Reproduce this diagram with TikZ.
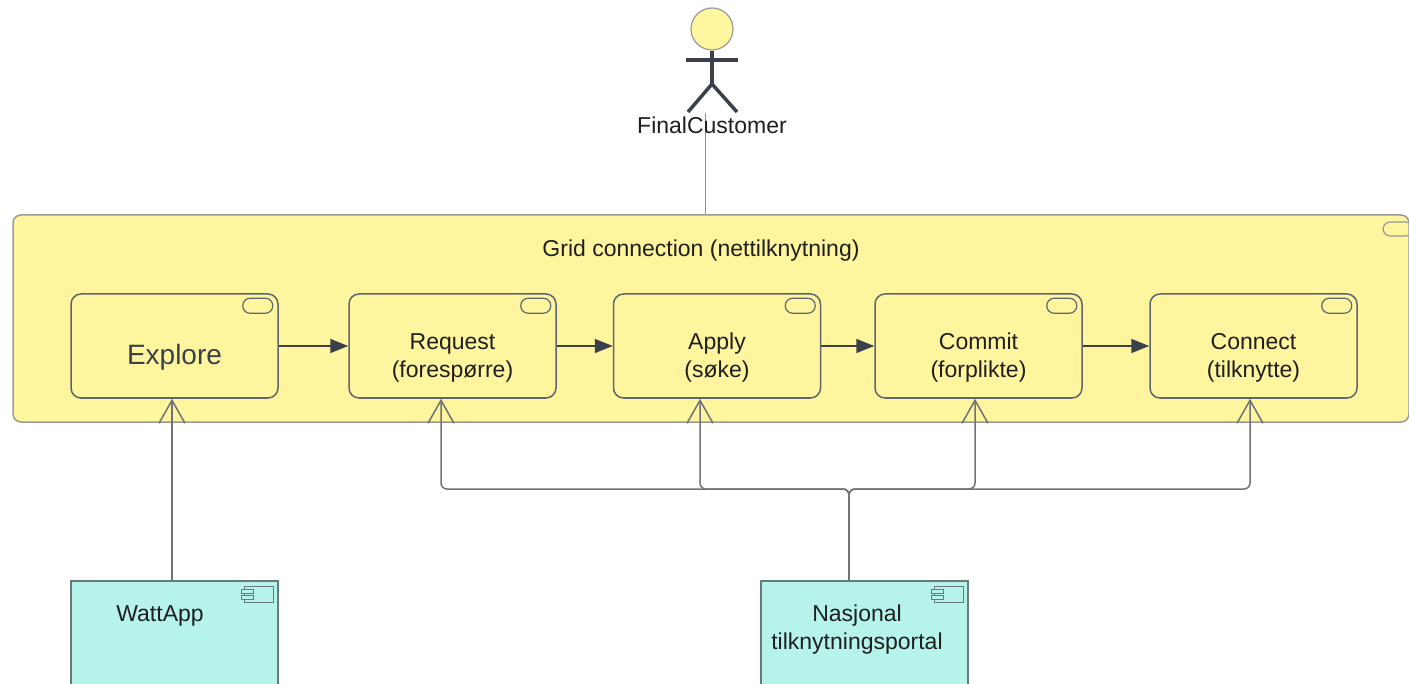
\documentclass[tikz,border=0pt]{standalone}
\usepackage{fontspec}
\setmainfont{Liberation Sans}
\usetikzlibrary{arrows.meta}
\definecolor{ylw}{HTML}{FEF59E}
\definecolor{cyanbox}{HTML}{B5F3EB}
\definecolor{boxline}{HTML}{5E6670}
\definecolor{bigline}{HTML}{9A9A9A}
\definecolor{conn}{HTML}{6E737B}
\definecolor{lightconn}{HTML}{8E939A}
\definecolor{dark}{HTML}{3A414A}
\definecolor{txt}{HTML}{1F1F1F}
\definecolor{compline}{HTML}{6A7A7A}
\begin{document}
\begin{tikzpicture}[x=0.5pt,y=-0.5pt,
  bigbox/.style={draw=bigline, fill=ylw, rounded corners=4pt, line width=0.75pt, minimum width=698pt, minimum height=103.5pt, inner sep=0},
  proc/.style={draw=boxline, fill=ylw, rounded corners=5pt, line width=0.75pt, minimum width=103.5pt, minimum height=52pt, inner sep=0},
  comp/.style={draw=compline, fill=cyanbox, line width=0.75pt, minimum width=103.5pt, minimum height=75pt, inner sep=0},
  lbl/.style={font=\fontsize{11.5}{14}\selectfont, text=txt, align=center, inner sep=0},
  pill/.style={draw=boxline, line width=0.6pt, rounded corners=3.7pt},
  icon/.style={draw=compline, line width=0.6pt},
  flow/.style={draw=dark, line width=0.75pt, -{Triangle[length=9pt,width=7pt]}},
  real/.style={draw=conn, line width=0.75pt, rounded corners=3pt, -{Straight Barb[length=11.5pt,width=13pt]}},
  actorline/.style={draw=dark, line width=1.75pt}
]
\useasboundingbox (0,0) rectangle (1409,684);
\clip (0,0) rectangle (1409,684);

% big box and actor
\coordinate (actorfoot) at (705,113);
\node[bigbox] (grid) at (711,318.5) {};
\draw[draw=lightconn, line width=0.5pt] (actorfoot) -- (actorfoot |- grid.north);
\draw[pill, draw=bigline] (1383,222) rectangle (1413,236);
\node[lbl] (gridT) at (701,251) {Grid connection (nettilknytning)};

\node[circle, draw=bigline, fill=ylw, line width=0.6pt, minimum size=21pt, inner sep=0] (head) at (712,29) {};
\draw[actorline] (686,60) -- (738,60);
\draw[actorline] (head.south) -- (712,84) coordinate (hip);
\draw[actorline] (688,112) -- (hip) -- (737,112);
\node[lbl] (actorT) at (712,125) {FinalCustomer};

% processes
\node[proc] (explore) at (174.5,346) {};
\node[proc] (request) at (452.5,346) {};
\node[proc] (apply)   at (717,346) {};
\node[proc] (commit)  at (978.5,346) {};
\node[proc] (connect) at (1253.5,346) {};
\foreach \b in {explore,request,apply,commit,connect}
  \draw[pill] ([xshift=-3pt,yshift=-2.5pt]\b.north east) rectangle ++(-15pt,-7.5pt);

\node[lbl, font=\fontsize{14}{17}\selectfont, text=dark] (exploreT) at ([yshift=-5.5pt]explore.center) {Explore};
\node[lbl] (requestT) at ([yshift=-6pt]request.center) {Request\\(forespørre)};
\node[lbl] (applyT)   at ([yshift=-6pt]apply.center) {Apply\\(søke)};
\node[lbl] (commitT)  at ([yshift=-6pt]commit.center) {Commit\\(forplikte)};
\node[lbl] (connectT) at ([yshift=-6pt]connect.center) {Connect\\(tilknytte)};

\draw[flow] (explore) -- (request);
\draw[flow] (request) -- (apply);
\draw[flow] (apply) -- (commit);
\draw[flow] (commit) -- (connect);

% components
\node[comp] (wattapp) at (174.5,656) {};
\node[comp] (nasjonal) at (864.5,656) {};
\foreach \b in {wattapp,nasjonal}{
  \draw[icon] ([xshift=-2.5pt,yshift=-3pt]\b.north east) rectangle ++(-14.5pt,-8pt);
  \draw[icon, fill=cyanbox] ([xshift=-18.5pt,yshift=-4.5pt]\b.north east) rectangle ++(6pt,-2pt);
  \draw[icon, fill=cyanbox] ([xshift=-18.5pt,yshift=-7.5pt]\b.north east) rectangle ++(6pt,-2pt);
}
\node[lbl] (wattT) at (160,616) {WattApp};
\node[lbl] (nasT) at (857,630) {Nasjonal\\tilknytningsportal};

% realization connectors
\draw[real] ([xshift=-1.25pt]wattapp.north) -- ([xshift=-1.25pt]explore.south);
\coordinate (nasTop) at ([xshift=-7.75pt]nasjonal.north);
\coordinate (bus) at (849,489);
\draw[real] (nasTop) -- (bus) -| ([xshift=-5.75pt]request.south);
\draw[real] (nasTop) -- (bus) -| ([xshift=-8.5pt]apply.south);
\draw[real] (nasTop) -- (bus) -| ([xshift=-1.75pt]commit.south);
\draw[real] (nasTop) -- (bus) -| ([xshift=-1.75pt]connect.south);
\end{tikzpicture}
\end{document}
